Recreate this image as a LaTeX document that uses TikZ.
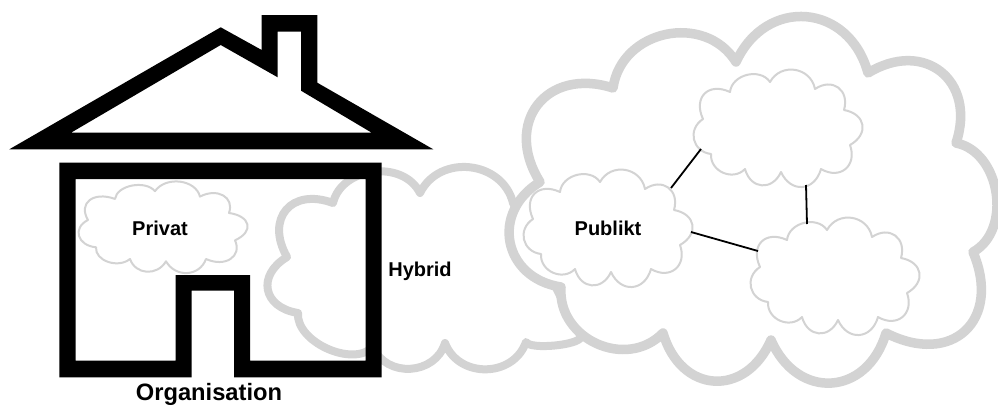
\documentclass[tikz,border=0pt]{standalone}
\usepackage{fontspec}
\setmainfont{Liberation Sans}
\definecolor{cloudedge}{HTML}{D3D3D3}

\tikzset{
  bump/.style={bend left=70,looseness=#1},
  bump/.default=1.5,
  smallcloud/.pic={
    \draw[cloudthin]
      (-48,-36) to[bump=1.1] (-8,-46) to[bump=1.26] (37,-39) to[bump=1.5] (66,-18)
      to[bump=1.6] (72,17) to[bump=1.5] (43,41) to[bump=1.5] (3,44)
      to[bump=1.5] (-33,41) to[bump=1.2] (-67,26) to[bump=1.35] (-75,-9)
      to[bump=1.6] cycle;
    % Where the connectors meet the outline.
    \coordinate (-ne) at (63,-40);
    \coordinate (-e) at (83,4);
    \coordinate (-sw) at (-77,21);
    \coordinate (-s) at (28,57);
    \coordinate (-n) at (-28,-52);
    \coordinate (-w) at (-77,-25);
  }
}

\begin{document}
\begin{tikzpicture}[
  x=1pt,
  y=-1pt,
  line join=round,
  cloudthick/.style={draw=cloudedge,fill=white,line width=9.5pt},
  cloudmid/.style={draw=cloudedge,fill=white,line width=8pt},
  cloudthin/.style={draw=cloudedge,fill=white,line width=2pt},
  wall/.style={fill=black,even odd rule},
  link/.style={draw=black,line width=1.8pt},
  caption/.style={font=\bfseries\fontsize{20}{24}\selectfont,inner sep=0pt},
]
  \useasboundingbox (0,0) rectangle (998,405);

  % Hybrid cloud first, its right end disappears under the public one.
  \draw[cloudmid]
    (333,203) to[bump=1.1] (420,193) to[bump=1.2] (513,203) -- (581,337)
    to[bump=0.4] (526,342) to[bump=1.2] (445,343) to[bump=1.2] (373,347)
    to[bump=0.9] (298,313) to[bump=1.6] (287,257) to[bump=1.6] cycle;

  % Public cloud.
  \draw[cloudthick]
    (540,182) to[bump=1.5] (613,88) to[bump=1.2] (736,62) to[bump=1.4] (868,73)
    to[bump=1.5] (956,143) to[bump=1.05] (973,252) to[bump=1.6] (886,333)
    to[bump=1.47] (771,340) to[bump=1.5] (663,333) to[bump=1.2] (561,287)
    to[bump=1.4] cycle;

  % Small clouds share one outline.
  \pic[yscale=0.78] (priv) at (163,227) {smallcloud};
  \pic (pub) at (608,228) {smallcloud};
  \pic (upper) at (778,128) {smallcloud};
  \pic (lower) at (835,276) {smallcloud};

  \draw[link] (pub-ne) -- (upper-sw);
  \draw[link] (pub-e) -- (lower-w);
  \draw[link] (upper-s) -- (lower-n);

  % Roof with chimney, then the walls with the door cut out.
  \fill[wall]
    (9.3,149.3) -- (220.7,27.3) -- (261.7,50) -- (261.7,15) -- (317.3,15)
    -- (317.3,82.7) -- (433.3,149.3) -- cycle
    (71,132.7) -- (220.7,45) -- (277.7,77.3) -- (277.7,31.7) -- (301,31.7)
    -- (301,90.7) -- (371.7,132.7) -- cycle;
  \fill[wall]
    (59.3,162.7) -- (381.7,162.7) -- (381.7,377.3) -- (234,377.3) -- (234,290.7)
    -- (191.7,290.7) -- (191.7,377.3) -- (59.3,377.3) -- cycle
    (75.7,179) -- (365.7,179) -- (365.7,360.7) -- (250,360.7) -- (250,275)
    -- (175.7,275) -- (175.7,360.7) -- (75.7,360.7) -- cycle;

  \node[caption] (privat) at (160,228) {Privat};
  \node[caption] (publikt) at (608,228) {Publikt};
  \node[caption] (hybrid) at (420,271) {Hybrid};
  \node[caption,font=\bfseries\fontsize{23.7}{28}\selectfont] (organisation) at (209,394) {Organisation};
\end{tikzpicture}
\end{document}
